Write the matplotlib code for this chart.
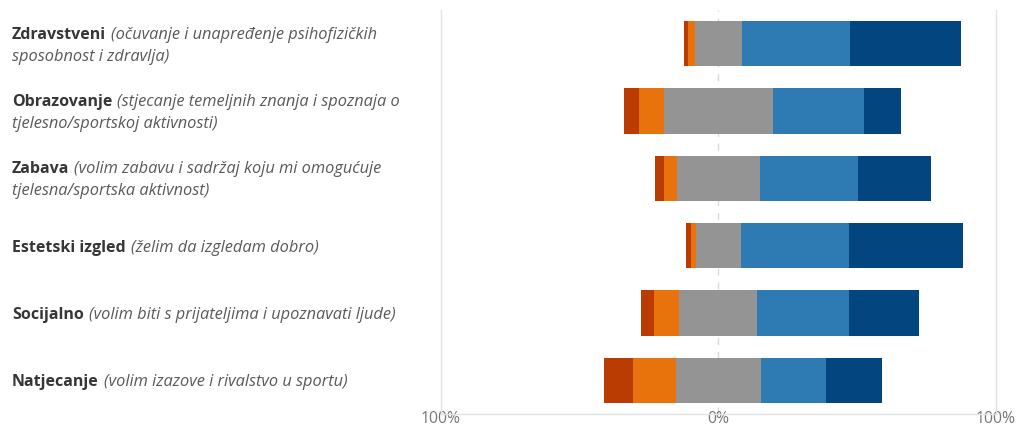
import matplotlib.pyplot as plt
from matplotlib.transforms import blended_transform_factory, offset_copy
import numpy as np

# Motives (bold part) and their descriptions (italic part, already wrapped)
motives = ['Zdravstveni', 'Obrazovanje', 'Zabava', 'Estetski izgled', 'Socijalno', 'Natjecanje']
descriptions = [
    ['(očuvanje i unapređenje psihofizičkih', 'sposobnost i zdravlja)'],
    ['(stjecanje temeljnih znanja i spoznaja o', 'tjelesno/sportskoj aktivnosti)'],
    ['(volim zabavu i sadržaj koju mi omogućuje', 'tjelesna/sportska aktivnost)'],
    ['(želim da izgledam dobro)'],
    ['(volim biti s prijateljima i upoznavati ljude)'],
    ['(volim izazove i rivalstvo u sportu)'],
]

# Shares in %
strongly_disagree = [1.4, 5.6, 3.0, 1.5, 4.7, 10.6]
disagree = [2.5, 9.0, 4.6, 2.0, 9.2, 15.3]
neutral = [17.0, 39.1, 30.1, 16.0, 28.0, 30.8]
agree = [38.8, 32.9, 35.2, 38.9, 33.2, 23.3]
strongly_agree = [40.1, 13.5, 26.5, 41.2, 25.1, 20.1]

tick_values = [-100, 0, 100]
tick_labels = ['100%', '0%', '100%']

colors = ['#BA3C02', '#E8720C', '#949494', '#2E7AB2', '#03467F']

plt.rcParams['font.family'] = ['Open Sans', 'DejaVu Sans']

fig = plt.figure(figsize=(10.17, 4.28), dpi=100)
ax = fig.add_axes([440.7 / 1017, 14 / 428, (996 - 440.7) / 1017, 404 / 428])

y = np.arange(len(motives))
series = [strongly_disagree, disagree, neutral, agree, strongly_agree]
left = -(np.array(strongly_disagree) + np.array(disagree) + np.array(neutral) / 2)
for vals, col in zip(series, colors):
    vals = np.array(vals)
    ax.barh(y, vals, left=left, height=0.67, color=col, zorder=3)
    left = left + vals

# zero line
ax.axvline(0, color='#d9d9d9', lw=1, ls=(0, (5, 5)), zorder=1)

ax.set_xlim(-100, 100)
ax.set_ylim(len(motives) - 0.5, -0.5)
ax.set_xticks(tick_values)
ax.set_xticklabels(tick_labels)
ax.set_yticks([])
ax.tick_params(axis='x', colors='#d9d9d9', labelcolor='#777777', labelsize=11.3, length=0, pad=-2)
for side in ['left', 'right', 'bottom']:
    ax.spines[side].set_color('#e3e3e3')
    ax.spines[side].set_linewidth(1)
ax.spines['top'].set_visible(False)

# Category labels: bold motive followed by italic description
trans = blended_transform_factory(fig.transFigure, ax.transData)
renderer = fig.canvas.get_renderer()
x0 = 12 / 1017
line_gap = 22  # px between wrapped lines
for i, (name, desc) in enumerate(zip(motives, descriptions)):
    n = len(desc)
    first_off = -line_gap / 2 * (n - 1)
    t = fig.text(x0, i, name, transform=offset_copy(trans, fig, y=-first_off * 0.72, units='points'),
                 fontsize=11.5, fontweight='bold', color='#363636', va='center_baseline')
    w = t.get_window_extent(renderer).width
    for k, line in enumerate(desc):
        dy = first_off + k * line_gap
        dx = (w + 5) if k == 0 else 0
        fig.text(x0, i, line, transform=offset_copy(trans, fig, x=dx * 0.72, y=-dy * 0.72, units='points'),
                 fontsize=11.8, fontstyle='italic', color='#5a5a5a', va='center_baseline')

fig.savefig('out.png', dpi=100)
